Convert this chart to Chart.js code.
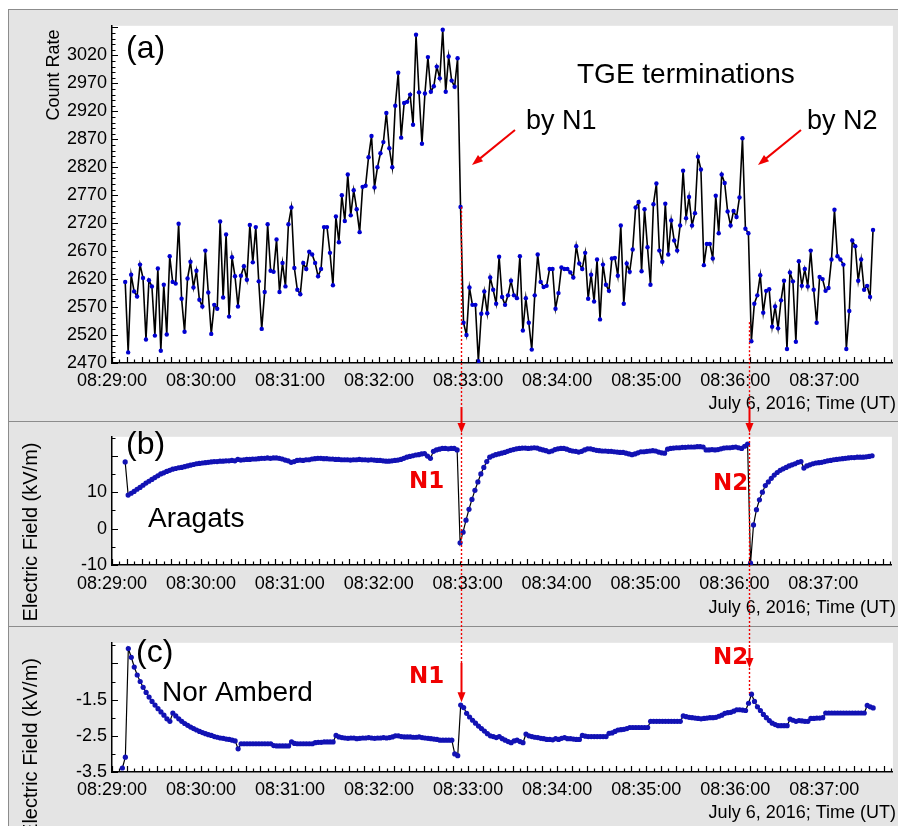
<!DOCTYPE html>
<html>
<head>
<meta charset="utf-8">
<script src="https://cdn.jsdelivr.net/npm/chart.js@4.4.0/dist/chart.umd.min.js"></script>
<style>
  body { margin: 0; background: #fff; }
  #wrap { position: relative; width: 898px; height: 826px; overflow: hidden; }
  .panel { position: absolute; left: 8px; width: 900px; background: #e4e4e4; border-top: 1px solid #8c8c8c; border-left: 1px solid #8c8c8c; box-sizing: border-box; }
  canvas { position: absolute; left: 0; }
</style>
</head>
<body>
<div id="wrap">
  <div class="panel" style="top:9px;height:412px"></div>
  <div class="panel" style="top:421px;height:206px"></div>
  <div class="panel" style="top:626px;height:210px"></div>
  <canvas id="chartA" width="898" height="411" style="top:10px"></canvas>
  <canvas id="chartB" width="898" height="206" style="top:421px"></canvas>
  <canvas id="chartC" width="898" height="199" style="top:627px"></canvas>
  <canvas id="overlay" width="898" height="826" style="top:0"></canvas>
</div>
<script>
// seconds after 08:29:00, one reading every 2 s
const step = 2;
const countStart = 8.9;
const aragatsStart = 8.9;
const norAmberdStart = 7;

const countRate = [
  2615, 2489, 2628, 2598, 2589, 2646, 2622, 2512, 2618, 2607,
  2519, 2639, 2492, 2610, 2521, 2661, 2615, 2612, 2719, 2585,
  2526, 2621, 2651, 2605, 2635, 2583, 2571, 2671, 2596, 2522,
  2574, 2567, 2723, 2587, 2700, 2553, 2659, 2625, 2571, 2626,
  2643, 2619, 2717, 2650, 2713, 2616, 2531, 2597, 2718, 2635,
  2633, 2691, 2597, 2649, 2607, 2718, 2748, 2640, 2601, 2593,
  2649, 2638, 2669, 2664, 2649, 2625, 2638, 2713, 2713, 2667,
  2609, 2732, 2686, 2770, 2724, 2807, 2734, 2779, 2745, 2704,
  2785, 2787, 2838, 2876, 2784, 2820, 2845, 2865, 2917, 2854,
  2820, 2930, 2989, 2873, 2935, 2937, 2950, 2896, 3057, 2954,
  2862, 2952, 3017, 2955, 2965, 3000, 2979, 3066, 2955, 3018,
  2975, 2964, 3015, 2749, 2542, 2520, 2605, 2574, 2574, 2473,
  2558, 2598, 2559, 2623, 2601, 2576, 2660, 2588, 2574, 2591,
  2617, 2591, 2586, 2661, 2528, 2586, 2542, 2494, 2591, 2664,
  2615, 2606, 2608, 2638, 2638, 2567, 2595, 2641, 2638, 2638,
  2632, 2623, 2679, 2648, 2638, 2667, 2585, 2628, 2580, 2655,
  2548, 2646, 2610, 2599, 2657, 2658, 2626, 2716, 2576, 2648,
  2633, 2673, 2748, 2758, 2634, 2745, 2677, 2610, 2754, 2791,
  2671, 2651, 2755, 2664, 2725, 2689, 2671, 2716, 2814, 2729,
  2767, 2716, 2738, 2839, 2816, 2645, 2683, 2683, 2657, 2769,
  2702, 2807, 2792, 2741, 2716, 2742, 2731, 2766, 2872, 2710,
  2702, 2509, 2576, 2591, 2627, 2560, 2599, 2602, 2535, 2571,
  2532, 2582, 2617, 2495, 2632, 2616, 2508, 2652, 2608, 2638,
  2607, 2671, 2601, 2542, 2624, 2620, 2599, 2604, 2655, 2744,
  2661, 2655, 2646, 2495, 2563, 2689, 2679, 2617, 2655, 2601,
  2608, 2588, 2708
];

const fieldAragats = [
  18.3, 9.2, 9.7, 10.2, 10.8, 11.3, 11.9, 12.5, 13.0, 13.5,
  14.0, 14.5, 15.0, 15.3, 15.7, 16.0, 16.3, 16.5, 16.7, 16.8,
  17.0, 17.2, 17.4, 17.6, 17.8, 17.9, 18.0, 18.1, 18.2, 18.3,
  18.4, 18.4, 18.5, 18.5, 18.6, 18.6, 18.7, 18.6, 19.0, 18.8,
  18.9, 19.0, 19.0, 19.1, 19.1, 19.2, 19.3, 19.3, 19.4, 19.3,
  19.4, 19.4, 19.3, 19.1, 18.8, 18.6, 18.2, 18.4, 18.7, 18.8,
  18.7, 18.9, 18.9, 19.1, 19.2, 19.3, 19.3, 19.2, 19.2, 19.1,
  19.1, 19.0, 19.0, 18.9, 18.9, 18.9, 18.8, 18.9, 18.9, 19.0,
  18.9, 18.9, 18.8, 18.9, 18.8, 18.7, 18.7, 18.6, 18.5, 18.5,
  18.6, 18.7, 18.8, 19.0, 19.3, 19.6, 19.8, 20.0, 20.2, 20.3,
  20.5, 20.6, 19.9, 19.3, 21.2, 21.6, 21.8, 22.0, 22.0, 21.9,
  22.0, 22.0, 21.6, -3.9, -1.0, 2.3, 5.3, 8.0, 10.5, 12.8,
  15.0, 16.8, 18.4, 19.6, 20.0, 20.3, 20.5, 20.7, 20.9, 21.2,
  21.5, 21.7, 21.9, 22.0, 22.1, 22.1, 22.0, 22.1, 22.2, 22.1,
  21.8, 21.6, 21.4, 21.1, 21.3, 21.7, 21.9, 22.0, 22.0, 21.8,
  21.5, 21.3, 21.2, 21.0, 21.2, 21.6, 21.9, 21.9, 21.7, 21.5,
  21.4, 21.3, 21.3, 21.2, 21.2, 21.1, 21.0, 20.9, 20.9, 20.7,
  20.5, 20.3, 20.5, 20.8, 21.1, 21.1, 21.2, 21.3, 21.4, 21.3,
  21.0, 20.8, 20.7, 21.8, 22.0, 22.1, 22.2, 22.2, 22.3, 22.3,
  22.4, 22.4, 22.4, 22.5, 22.5, 22.4, 21.6, 21.6, 21.7, 21.6,
  21.7, 21.9, 22.1, 22.2, 22.2, 22.3, 22.4, 22.2, 22.0, 22.6,
  23.2, -9.5, 1.0, 5.2, 7.9, 10.0, 11.8, 12.8, 13.8, 14.7,
  15.4, 16.0, 16.4, 16.8, 17.2, 17.5, 17.8, 18.2, 18.4, 16.6,
  17.2, 17.5, 17.8, 18.0, 18.1, 18.2, 18.4, 18.6, 18.7, 18.9,
  19.0, 19.1, 19.2, 19.3, 19.4, 19.5, 19.5, 19.6, 19.6, 19.6,
  19.7, 19.8, 20.0
];

const fieldNorAmberd = [
  -3.39, -3.09, -0.09, -0.33, -0.6, -0.82, -1.0, -1.16, -1.3, -1.43,
  -1.55, -1.65, -1.75, -1.84, -1.93, -2.03, -2.1, -1.87, -1.95, -2.03,
  -2.1, -2.16, -2.21, -2.26, -2.3, -2.34, -2.38, -2.41, -2.44, -2.47,
  -2.49, -2.52, -2.54, -2.56, -2.57, -2.59, -2.6, -2.62, -2.64, -2.86,
  -2.72, -2.72, -2.72, -2.72, -2.72, -2.72, -2.72, -2.72, -2.72, -2.72,
  -2.72, -2.77, -2.78, -2.78, -2.78, -2.78, -2.78, -2.67, -2.71, -2.72,
  -2.72, -2.72, -2.72, -2.72, -2.72, -2.69, -2.68, -2.68, -2.67, -2.67,
  -2.67, -2.67, -2.49, -2.53, -2.55, -2.56, -2.57, -2.56, -2.56, -2.58,
  -2.57, -2.56, -2.56, -2.55, -2.56, -2.57, -2.56, -2.56, -2.55, -2.56,
  -2.55, -2.53, -2.5, -2.5, -2.52, -2.53, -2.53, -2.53, -2.54, -2.54,
  -2.53, -2.55, -2.56, -2.57, -2.58, -2.59, -2.6, -2.62, -2.62, -2.62,
  -2.62, -2.62, -3.0, -3.05, -1.65, -1.72, -1.88, -1.98, -2.07, -2.15,
  -2.23, -2.3, -2.37, -2.44, -2.5, -2.52, -2.55, -2.52, -2.58, -2.62,
  -2.66, -2.69, -2.64, -2.62, -2.66, -2.69, -2.45, -2.5, -2.52, -2.54,
  -2.55, -2.57, -2.58, -2.6, -2.6, -2.61, -2.58, -2.6, -2.57, -2.55,
  -2.58, -2.58, -2.59, -2.6, -2.6, -2.49, -2.51, -2.52, -2.52, -2.52,
  -2.52, -2.52, -2.52, -2.52, -2.43, -2.42, -2.38, -2.34, -2.33, -2.32,
  -2.3, -2.27, -2.27, -2.27, -2.27, -2.27, -2.27, -2.27, -2.1, -2.1,
  -2.1, -2.1, -2.1, -2.1, -2.1, -2.1, -2.1, -2.1, -2.1, -1.95,
  -1.97, -1.99, -2.0, -2.01, -2.02, -2.03, -2.02, -2.01, -2.0, -2.0,
  -1.99, -1.96, -1.93, -1.88, -1.86, -1.85, -1.82, -1.78, -1.78, -1.79,
  -1.8, -1.6, -1.35, -1.55, -1.7, -1.8, -1.91, -2.0, -2.08, -2.15,
  -2.19, -2.22, -2.22, -2.22, -2.22, -2.04, -2.07, -2.1, -2.08, -2.09,
  -2.1, -2.1, -2.02, -2.02, -2.01, -2.01, -2.0, -1.87, -1.87, -1.87,
  -1.87, -1.87, -1.87, -1.87, -1.87, -1.87, -1.87, -1.87, -1.87, -1.87,
  -1.87, -1.66, -1.7, -1.73
];

const timeLabels = ['08:29:00', '08:30:00', '08:31:00', '08:32:00', '08:33:00',
                    '08:34:00', '08:35:00', '08:36:00', '08:37:00'];
const countLabels = [2470, 2520, 2570, 2620, 2670, 2720, 2770, 2820, 2870, 2920, 2970, 3020];
const aragatsLabels = [-10, 0, 10];
const norAmberdLabels = [-3.5, -2.5, -1.5];

// moments of the two lightning flashes (s after 08:29:00)
const n1Time = 235.3;
const n2Time = 429.5;

const FONT = '"Liberation Sans", Arial, sans-serif';
const RED = '#f00000';
Chart.defaults.font.family = FONT;
Chart.defaults.color = '#000';

function toPoints(start, values) {
  return values.map((v, i) => ({ x: start + i * step, y: v }));
}

function makeTicks(min, max, inc) {
  const out = [];
  const n = Math.round((max - min) / inc);
  for (let k = 0; k <= n; k++) out.push({ value: Math.round((min + k * inc) * 1000) / 1000 });
  return out;
}

function arrow(ctx, x0, y0, x1, y1, head) {
  const a = Math.atan2(y1 - y0, x1 - x0);
  ctx.beginPath();
  ctx.moveTo(x0, y0);
  ctx.lineTo(x1 - Math.cos(a) * head * 0.7, y1 - Math.sin(a) * head * 0.7);
  ctx.stroke();
  ctx.beginPath();
  ctx.moveTo(x1, y1);
  ctx.lineTo(x1 - head * Math.cos(a) + 4 * Math.sin(a), y1 - head * Math.sin(a) - 4 * Math.cos(a));
  ctx.lineTo(x1 - head * Math.cos(a) - 4 * Math.sin(a), y1 - head * Math.sin(a) + 4 * Math.cos(a));
  ctx.closePath();
  ctx.fill();
}

const whiteArea = {
  id: 'whiteArea',
  beforeDraw(chart) {
    const a = chart.chartArea;
    chart.ctx.save();
    chart.ctx.fillStyle = '#fff';
    chart.ctx.fillRect(a.left, a.top, a.right - a.left, a.bottom - a.top);
    chart.ctx.restore();
  }
};

function inwardTicks(isMajor) {
  return {
    id: 'inwardTicks',
    afterDatasetsDraw(chart) {
      const { ctx, chartArea: a, scales: { x, y } } = chart;
      ctx.save();
      ctx.strokeStyle = '#000';
      ctx.lineWidth = 1.2;
      ctx.beginPath();
      x.ticks.forEach(t => {
        const px = Math.round(x.getPixelForValue(t.value)) + 0.5;
        const len = t.value % 10 === 0 ? 6 : 3.5;
        ctx.moveTo(px, a.bottom);
        ctx.lineTo(px, a.bottom - len);
      });
      y.ticks.forEach(t => {
        const py = Math.round(y.getPixelForValue(t.value)) + 0.5;
        const len = isMajor(t.value) ? 6 : 3.5;
        ctx.moveTo(a.left, py);
        ctx.lineTo(a.left + len, py);
      });
      ctx.stroke();
      ctx.restore();
    }
  };
}

function labels(texts, extra) {
  return {
    id: 'labels',
    afterDraw(chart) {
      const ctx = chart.ctx;
      texts.forEach(t => {
        ctx.save();
        ctx.font = t.font;
        ctx.fillStyle = t.color || '#000';
        if (t.rotate) {
          ctx.translate(t.x, t.y);
          ctx.rotate(-Math.PI / 2);
          ctx.textAlign = 'center';
          ctx.textBaseline = 'middle';
          ctx.fillText(t.text, 0, 0);
        } else {
          ctx.textAlign = t.align || 'left';
          ctx.textBaseline = 'alphabetic';
          ctx.fillText(t.text, t.x, t.y);
        }
        ctx.restore();
      });
      if (extra) extra(chart);
    }
  };
}

function makeChart(id, cfg) {
  return new Chart(document.getElementById(id), {
    type: 'line',
    data: {
      datasets: [{
        data: cfg.points,
        borderColor: '#000',
        borderWidth: cfg.lineWidth,
        pointRadius: cfg.dot,
        pointBackgroundColor: cfg.dotColor,
        pointBorderWidth: 0,
        tension: 0
      }]
    },
    options: {
      responsive: false,
      animation: false,
      events: [],
      layout: { padding: { top: cfg.top, left: 0, right: 0, bottom: 0 } },
      plugins: { legend: { display: false }, tooltip: { enabled: false } },
      scales: {
        x: {
          type: 'linear',
          min: 0,
          max: 526.3,
          afterBuildTicks: s => { s.ticks = makeTicks(0, 525, 5); },
          afterFit: s => { s.height = cfg.xHeight; },
          ticks: {
            autoSkip: false,
            maxRotation: 0,
            padding: cfg.xPad,
            font: { size: 18 },
            callback: v => (v % 60 === 0 ? timeLabels[v / 60] : '')
          },
          grid: { display: true, drawOnChartArea: false, drawTicks: false },
          border: { color: '#000', width: 1.5 }
        },
        y: {
          min: cfg.yMin,
          max: cfg.yMax,
          afterBuildTicks: s => { s.ticks = makeTicks(cfg.yMin, cfg.tickTop, cfg.yStep); },
          afterFit: s => { s.width = 112; },
          ticks: {
            autoSkip: false,
            padding: 5,
            font: { size: 18 },
            callback: cfg.yLabel
          },
          grid: { display: true, drawOnChartArea: false, drawTicks: false },
          border: { color: '#000', width: 1.5 }
        }
      }
    },
    plugins: [whiteArea, inwardTicks(cfg.isMajor), labels(cfg.texts, cfg.extra)]
  });
}

const titleFont = '18px ' + FONT;
const bigFont = '28px ' + FONT;
const letterFont = '32px ' + FONT;
const nFont = 'bold 23px "DejaVu Sans", sans-serif';
const xTitle = 'July 6, 2016; Time (UT)';

const chartA = makeChart('chartA', {
  points: toPoints(countStart, countRate),
  lineWidth: 1.6, dot: 2.2, dotColor: '#0000d0',
  top: 10, xHeight: 58, xPad: 7,
  yMin: 2470, yMax: 3073, tickTop: 3070, yStep: 10,
  isMajor: v => (v - 2470) % 50 === 0,
  yLabel: v => (countLabels.includes(v) ? String(v) : ''),
  texts: [
    { text: 'Count Rate', x: 54.5, y: 65, font: titleFont, rotate: true },
    { text: '(a)', x: 126, y: 48, font: letterFont },
    { text: 'TGE terminations', x: 577, y: 73, font: bigFont },
    { text: 'by N1', x: 526, y: 119, font: '27px ' + FONT },
    { text: 'by N2', x: 807, y: 119, font: '27px ' + FONT },
    { text: xTitle, x: 896, y: 399, font: titleFont, align: 'right' }
  ],
  extra: chart => {
    const ctx = chart.ctx;
    ctx.save();
    ctx.strokeStyle = RED;
    ctx.fillStyle = RED;
    ctx.lineWidth = 2;
    arrow(ctx, 515, 120, 472, 155, 11);
    arrow(ctx, 801, 120, 758, 155, 11);
    ctx.restore();
  }
});

const chartB = makeChart('chartB', {
  points: toPoints(aragatsStart, fieldAragats),
  lineWidth: 1.2, dot: 2.6, dotColor: '#1212b4',
  top: 12, xHeight: 62, xPad: 8,
  yMin: -10, yMax: 25.2, tickTop: 25, yStep: 5,
  isMajor: v => v % 10 === 0,
  yLabel: v => (aragatsLabels.includes(v) ? String(v) : ''),
  texts: [
    { text: 'Electric Field (kV/m)', x: 31.5, y: 111, font: '20px ' + FONT, rotate: true },
    { text: '(b)', x: 126, y: 33, font: letterFont },
    { text: 'Aragats', x: 148, y: 106, font: bigFont },
    { text: 'N1', x: 409, y: 67, font: nFont, color: RED },
    { text: 'N2', x: 713, y: 69, font: nFont, color: RED },
    { text: xTitle, x: 896, y: 192, font: titleFont, align: 'right' }
  ]
});

const chartC = makeChart('chartC', {
  points: toPoints(norAmberdStart, fieldNorAmberd),
  lineWidth: 1.2, dot: 2.6, dotColor: '#1212b4',
  top: 11, xHeight: 54, xPad: 7,
  yMin: -3.5, yMax: 0.07, tickTop: 0, yStep: 0.5,
  isMajor: v => Math.abs((v + 0.5) - Math.round(v + 0.5)) < 1e-6,
  yLabel: v => (norAmberdLabels.includes(v) ? v.toFixed(1) : ''),
  texts: [
    { text: 'Electric Field (kV/m)', x: 31.5, y: 120.5, font: '20px ' + FONT, rotate: true },
    { text: '(c)', x: 136, y: 35, font: letterFont },
    { text: 'Nor Amberd', x: 162, y: 74, font: bigFont },
    { text: 'N1', x: 409, y: 56, font: nFont, color: RED },
    { text: 'N2', x: 713, y: 37, font: nFont, color: RED },
    { text: xTitle, x: 896, y: 191, font: titleFont, align: 'right' }
  ]
});

// red markers running through all three panels
(function drawOverlay() {
  const ctx = document.getElementById('overlay').getContext('2d');
  const topA = 10, topC = 627;
  const x1 = Math.round(chartA.scales.x.getPixelForValue(n1Time)) + 0.5;
  const x2 = Math.round(chartA.scales.x.getPixelForValue(n2Time)) + 0.5;
  const yA1 = topA + chartA.scales.y.getPixelForValue(2749);
  const yA2 = topA + chartA.scales.y.getPixelForValue(2543);
  const yC1 = topC + chartC.scales.y.getPixelForValue(-1.6);
  const yC2 = topC + chartC.scales.y.getPixelForValue(-1.33);
  ctx.strokeStyle = RED;
  ctx.fillStyle = RED;
  ctx.lineWidth = 1.4;

  function dotted(x, y0, y1) {
    ctx.save();
    ctx.setLineDash([2, 2]);
    ctx.beginPath();
    ctx.moveTo(x, y0);
    ctx.lineTo(x, y1);
    ctx.stroke();
    ctx.restore();
  }
  function down(x, y0, y1) {
    ctx.save();
    ctx.lineWidth = 2;
    arrow(ctx, x, y0, x, y1, 10);
    ctx.restore();
  }

  dotted(x1, yA1, 407);
  down(x1, 407, 433);
  dotted(x1, 433, 663);
  down(x1, 663, yC1 - 1);

  dotted(x2, yA2, 407);
  down(x2, 407, 433);
  dotted(x2, 433, 648);
  down(x2, 648, 668);
  dotted(x2, 668, yC2);
})();
</script>
</body>
</html>
